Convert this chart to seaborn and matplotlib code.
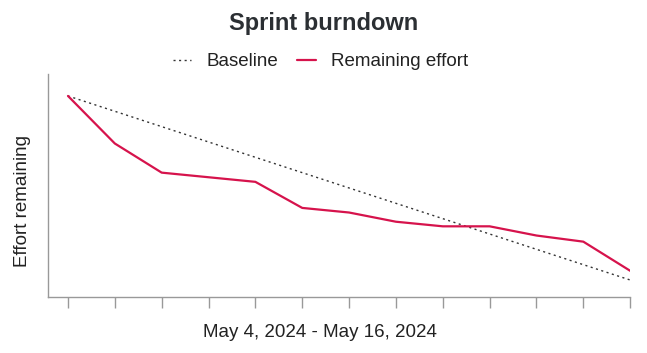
import pandas as pd
import seaborn as sns
import matplotlib.pyplot as plt

days = pd.date_range("2024-05-04", "2024-05-16", freq="D")
remaining = [120, 89, 70, 67, 64, 47, 44, 38, 35, 35, 29, 25, 6]
baseline = [120 - 10 * i for i in range(len(days))]

df = pd.DataFrame({"day": days, "Baseline": baseline, "Remaining effort": remaining})

sns.set_style("white")
plt.rcParams["font.family"] = ["Liberation Sans", "DejaVu Sans"]

fig = plt.figure(figsize=(6.47, 3.53), dpi=100)
ax = fig.add_axes([0.074, 0.159, 0.9, 0.63])

sns.lineplot(data=df, x="day", y="Baseline", ax=ax, color="#333333",
             linestyle=(0, (1.5, 2.5)), linewidth=1.0, label="Baseline")
sns.lineplot(data=df, x="day", y="Remaining effort", ax=ax, color="#d6134c",
             linewidth=1.6, label="Remaining effort")

ax.set_xlim(days[0] - pd.Timedelta(hours=10.3), days[-1])
ax.set_ylim(-11, 134)
ax.set_xticks(days)
ax.set_xticklabels([""] * len(days))
ax.set_yticks([])
ax.tick_params(axis="x", bottom=True, length=8, width=1, color="#999999")

for s in ["top", "right"]:
    ax.spines[s].set_visible(False)
for s in ["left", "bottom"]:
    ax.spines[s].set_color("#999999")
    ax.spines[s].set_linewidth(1)

ax.set_xlabel("May 4, 2024 - May 16, 2024", fontsize=13.5, color="#222222", va="center")
ax.xaxis.set_label_coords(0.467, -0.158)
ax.set_ylabel("Effort remaining", fontsize=13.5, color="#222222", va="center")
ax.yaxis.set_label_coords(-0.044, 0.43)

ax.get_legend().remove()
handles, labels = ax.get_legend_handles_labels()
fig.legend(handles, labels, loc="center", bbox_to_anchor=(0.495, 0.825), ncol=2,
           frameon=False, fontsize=13.5, handlelength=1.0, handletextpad=0.8,
           columnspacing=1.0, labelcolor="#222222")

fig.suptitle("Sprint burndown", fontsize=17, fontweight="bold", color="#2b2f33", y=0.965)

fig.savefig("out.png", dpi=100)
